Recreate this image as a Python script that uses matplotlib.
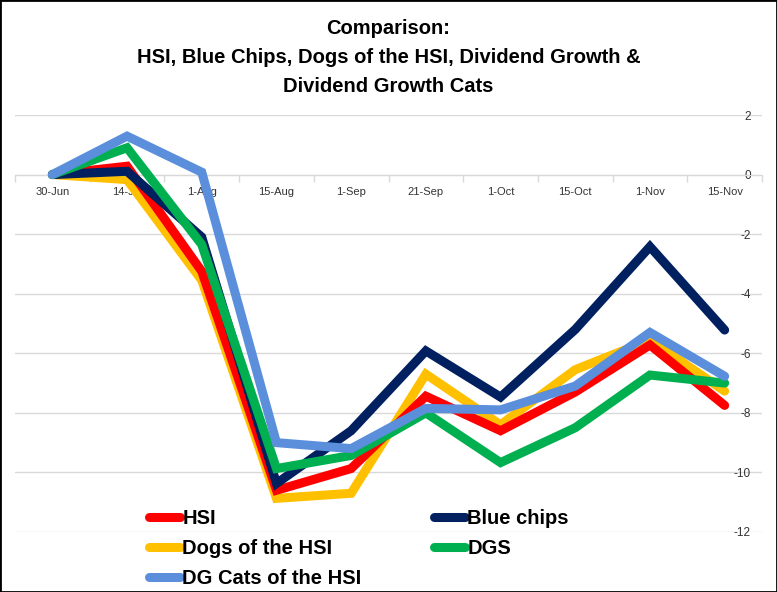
import numpy as np
import matplotlib.pyplot as plt
from matplotlib.patches import Rectangle

plt.rcParams['font.family'] = ['Liberation Sans', 'DejaVu Sans']
plt.rcParams['axes.unicode_minus'] = False

dates = ['30-Jun', '14-Jul', '1-Aug', '15-Aug', '1-Sep', '21-Sep', '1-Oct', '15-Oct', '1-Nov', '15-Nov']

hsi = [0, 0.28, -3.25, -10.6, -9.87, -7.44, -8.6, -7.3, -5.72, -7.75]
blue_chips = [0, 0.11, -2.1, -10.37, -8.6, -5.92, -7.47, -5.2, -2.42, -5.22]
dogs = [0, -0.17, -3.55, -10.87, -10.7, -6.7, -8.4, -6.55, -5.55, -7.27]
dgs = [0, 0.9, -2.35, -9.87, -9.43, -8.0, -9.67, -8.5, -6.73, -7.0]
dg_cats = [0, 1.29, 0.08, -9.0, -9.2, -7.85, -7.9, -7.1, -5.3, -6.77]

yticks = [2, 0, -2, -4, -6, -8, -10, -12]

series = [
    ('Dogs of the HSI', dogs, '#FFC000', 2),
    ('HSI', hsi, '#FF0000', 3),
    ('Blue chips', blue_chips, '#002060', 4),
    ('DGS', dgs, '#00B050', 5),
    ('DG Cats of the HSI', dg_cats, '#5B8FDC', 6),
]

fig = plt.figure(figsize=(7.77, 5.92), dpi=100)
ax = fig.add_axes([15 / 777, 60 / 592, 747 / 777, 417 / 592])

x = np.arange(len(dates))
lines = {}
for name, vals, col, z in series:
    ln, = ax.plot(x, vals, color=col, lw=6.5, solid_joinstyle='miter',
                  solid_capstyle='round', zorder=z, label=name)
    lines[name] = ln

ax.set_xlim(-0.5, len(dates) - 0.5)
ax.set_ylim(min(yticks), max(yticks))

# gridlines
ax.set_yticks(yticks)
ax.grid(axis='y', color='#D9D9D9', lw=1, zorder=0)
ax.tick_params(axis='y', length=0, left=False, labelleft=False, right=False,
               labelright=True, pad=-8, labelsize=8.5, labelcolor='#333333')
for lbl in ax.get_yticklabels():
    lbl.set_horizontalalignment('right')

# category axis sitting on y = 0
for s in ['top', 'right', 'left']:
    ax.spines[s].set_visible(False)
ax.spines['bottom'].set_position(('data', 0))
ax.spines['bottom'].set_color('#D9D9D9')
ax.set_xticks(x)
ax.set_xticklabels(dates)
ax.set_xticks(np.arange(len(dates) + 1) - 0.5, minor=True)
ax.tick_params(axis='x', which='major', length=0, pad=9, labelsize=8, labelcolor='#333333')
ax.tick_params(axis='x', which='minor', length=5, color='#D9D9D9', width=1)

fig.suptitle('Comparison:\nHSI, Blue Chips, Dogs of the HSI, Dividend Growth &\nDividend Growth Cats',
             y=1 - 19 / 592, va='top', fontsize=14.5, fontweight='bold', linespacing=1.65)

order = ['HSI', 'Dogs of the HSI', 'DG Cats of the HSI', 'Blue chips', 'DGS']
leg = fig.legend([lines[n] for n in order], order, ncol=2, loc='upper left',
                 bbox_to_anchor=(149 / 777, 1 - 509 / 592), frameon=False,
                 prop={'weight': 'bold', 'size': 14.5}, handlelength=1.55,
                 handletextpad=0.1, columnspacing=3.6, labelspacing=0.55,
                 borderpad=0, borderaxespad=0)

fig.patches.append(Rectangle((0, 0), 1, 1, transform=fig.transFigure, fill=False,
                             edgecolor='black', lw=2))

fig.savefig('out.png', dpi=100)
